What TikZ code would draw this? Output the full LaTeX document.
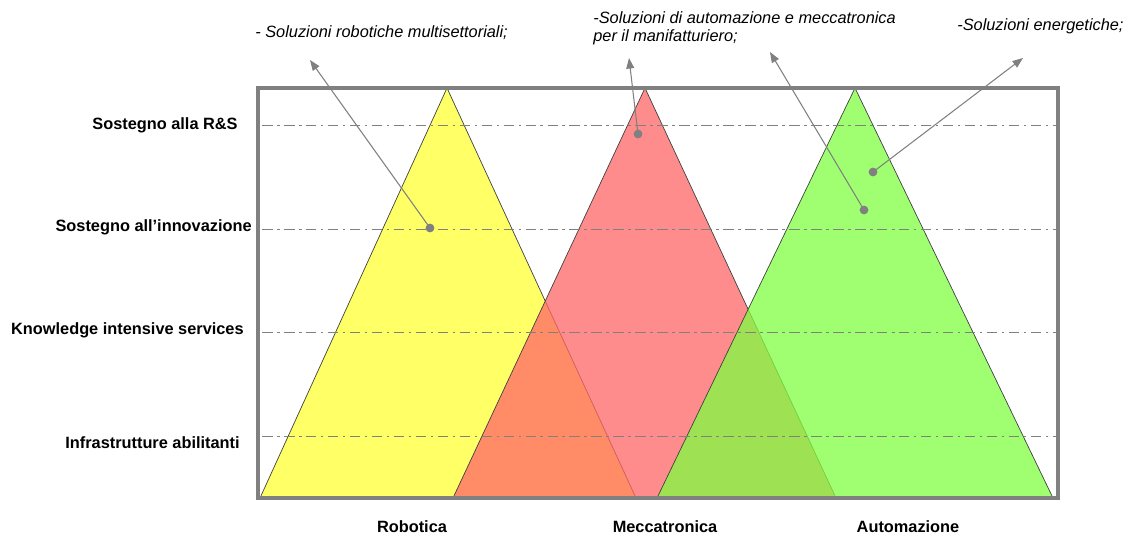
\documentclass[tikz,border=0pt]{standalone}
\usepackage{fontspec}
\setmainfont{Liberation Sans}
\usetikzlibrary{positioning,arrows.meta}
\definecolor{giallo}{HTML}{FFFF66}
\definecolor{rosso}{HTML}{FF6666}
\definecolor{verde}{HTML}{7FFF40}
\definecolor{grigio}{HTML}{808080}

\begin{document}
\begin{tikzpicture}[x=0.02cm, y=-0.02cm, ->, >={Triangle[length=6pt,width=4.5pt]},
  asse/.style={font=\fontsize{9.3}{11}\selectfont\bfseries, anchor=east, inner sep=0pt},
  settore/.style={font=\fontsize{9.3}{11}\selectfont\bfseries, inner sep=0pt},
  nota/.style={font=\fontsize{9.3}{10.5}\selectfont\itshape, anchor=north west, align=left, inner sep=0pt},
  punto/.style={circle, fill=grigio, minimum size=5pt, inner sep=0pt},
  livello/.style={grigio, thin, dash pattern=on 6pt off 2.5pt on 1.5pt off 2.5pt},
  cono/.style={draw=black!75, line width=0.4pt},
  every edge/.append style={grigio, line width=0.6pt}]

\useasboundingbox (0,0) rectangle (1126,534);

% triangoli
\path[cono, fill=giallo] (260,498) -- (447,88) -- (636,498) -- cycle;
\path[cono, fill=rosso, fill opacity=0.75] (453,498) -- (645,88) -- (836,498) -- cycle;
\path[cono, fill=verde, fill opacity=0.75] (657,498) -- (855,88) -- (1053,498) -- cycle;

% livelli
\foreach \y in {125,229,332,436}
  \draw[livello, -] (262,\y) -- (1056,\y);

\draw[grigio, line width=2pt, -] (258,88) rectangle (1058,498);

% etichette a sinistra
\node[asse] (rs) at (238,125) {Sostegno alla R\&S};
\node[asse] (inn) at (252,227) {Sostegno all’innovazione};
\node[asse] (kis) at (244,330) {Knowledge intensive services};
\node[asse] (infra) at (240,443) {Infrastrutture abilitanti};

% settori
\node[settore] (rob) at (412,527) {Robotica};
\node[settore] (mec) at (665,527) {Meccatronica};
\node[settore] (aut) at (908,527) {Automazione};

% note
\node[nota] (n1) at (255,25) {- Soluzioni robotiche multisettoriali;};
\node[nota] (n2) at (593,11) {-Soluzioni di automazione e meccatronica\\per il manifatturiero;};
\node[nota] (n3) at (957,18) {-Soluzioni energetiche;};

\node[punto] (p1) at (430,228) {};
\node[punto] (p2) at (638,134) {};
\node[punto] (p3) at (864,210) {};
\node[punto] (p4) at (873,172) {};

\coordinate (f1) at (310,60);
\coordinate (f2) at (629,58);
\coordinate (f3) at (770,52);
\coordinate (f4) at (1023,58);

\path
    (p1.center) edge (f1)
    (p2.center) edge (f2)
    (p3.center) edge (f3)
    (p4.center) edge (f4);
\end{tikzpicture}
\end{document}
